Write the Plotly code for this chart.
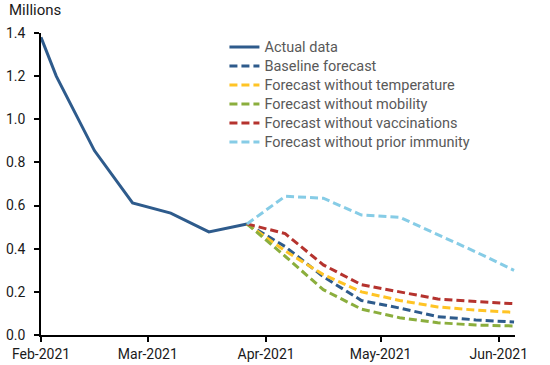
import plotly.graph_objects as go

actual_dates = ["2021-02-01", "2021-02-05", "2021-02-15", "2021-02-25",
                "2021-03-07", "2021-03-17", "2021-03-27"]
actual = [1.38, 1.20, 0.855, 0.612, 0.565, 0.478, 0.515]

forecast_dates = ["2021-03-27", "2021-04-06", "2021-04-16", "2021-04-26",
                  "2021-05-06", "2021-05-16", "2021-05-26", "2021-06-05"]
baseline = [0.515, 0.41, 0.27, 0.16, 0.125, 0.085, 0.07, 0.06]
no_temperature = [0.515, 0.39, 0.28, 0.20, 0.16, 0.13, 0.115, 0.105]
no_mobility = [0.515, 0.365, 0.21, 0.12, 0.08, 0.057, 0.046, 0.042]
no_vaccinations = [0.515, 0.47, 0.325, 0.233, 0.20, 0.167, 0.155, 0.145]
no_immunity = [0.515, 0.643, 0.634, 0.556, 0.546, 0.465, 0.385, 0.30]

tick_dates = ["2021-02-01", "2021-03-01", "2021-04-01", "2021-05-01", "2021-06-01"]
tick_labels = ["Feb-2021", "Mar-2021", "Apr-2021", "May-2021", "Jun-2021"]
y_ticks = [0.0, 0.2, 0.4, 0.6, 0.8, 1.0, 1.2, 1.4]
y_labels = ["0.0", "0.2", "0.4", "0.6", "0.8", "1.0", "1.2", "1.4"]


def lg(name):
    return "<span style='font-size:14.5px'>" + name + "</span>"


DASH = "8px,4px"
fig = go.Figure()
fig.add_trace(go.Scatter(x=actual_dates, y=actual, mode="lines", name=lg("Actual data"),
                         line=dict(color="#2E5B8C", width=3)))
series = [
    ("Baseline forecast", baseline, "#2E5B8C"),
    ("Forecast without temperature", no_temperature, "#FFC425"),
    ("Forecast without mobility", no_mobility, "#8BAE3D"),
    ("Forecast without vaccinations", no_vaccinations, "#B5332E"),
    ("Forecast without prior immunity", no_immunity, "#86CCE6"),
]
for name, vals, col in series:
    fig.add_trace(go.Scatter(x=forecast_dates, y=vals, mode="lines", name=lg(name),
                             line=dict(color=col, width=3, dash=DASH)))

fig.update_layout(
    width=550, height=365,
    margin=dict(l=41, r=35, t=33, b=30),
    paper_bgcolor="white", plot_bgcolor="white",
    font=dict(family="Roboto", size=14, color="#1a1a1a"),
    showlegend=True,
    legend=dict(x=0.387, y=1.002, xanchor="left", yanchor="top",
                font=dict(family="Roboto", size=12, color="#595959"),
                bgcolor="rgba(0,0,0,0)", tracegroupgap=0),
    xaxis=dict(type="date", range=["2021-02-01", "2021-06-05 06:00"],
               tickvals=tick_dates, ticktext=tick_labels,
               showgrid=False, zeroline=False, showline=True, automargin=False,
               linecolor="black", linewidth=1.5,
               ticks="outside", ticklen=5, tickcolor="black", tickwidth=1.5,
               tickfont=dict(size=14, color="#1a1a1a")),
    yaxis=dict(range=[0, 1.4], tickvals=y_ticks, ticktext=y_labels,
               showgrid=False, zeroline=False, showline=True, automargin=False,
               linecolor="black", linewidth=1.5,
               ticks="outside", ticklen=5, tickcolor="black", tickwidth=1.5,
               ticklabelstandoff=6,
               tickfont=dict(size=14, color="#1a1a1a")),
    annotations=[dict(text="Millions", xref="paper", yref="paper",
                      x=-0.072, y=1.077, xanchor="left", yanchor="middle",
                      showarrow=False, font=dict(size=15, color="#1a1a1a"))],
)
fig.write_html("out.html", config={"displayModeBar": False},
               post_script="document.body.style.margin='0px';")
